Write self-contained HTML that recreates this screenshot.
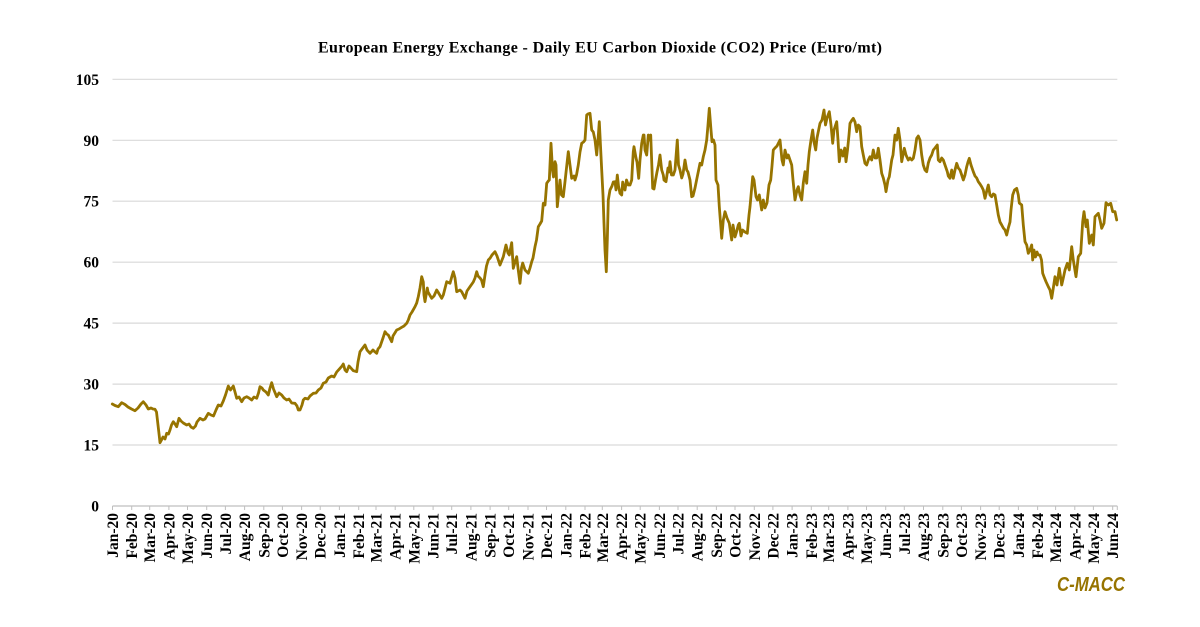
<!DOCTYPE html>
<html>
<head>
<meta charset="utf-8">
<style>
  html,body{margin:0;padding:0;background:#fff;}
  svg{display:block;}
  .t{font-family:"Liberation Serif","Times New Roman",serif;font-weight:bold;fill:#000;}
  .yl{font-size:15.5px;}
  .xl{font-size:15.5px;}
</style>
</head>
<body>
<svg width="1200" height="627" viewBox="0 0 1200 627" xmlns="http://www.w3.org/2000/svg">
  <rect width="1200" height="627" fill="#fff"/>
  <text class="t" x="600" y="52.5" font-size="16" text-anchor="middle" textLength="564" lengthAdjust="spacing">European Energy Exchange - Daily EU Carbon Dioxide (CO2) Price (Euro/mt)</text>

  <!-- gridlines -->
  <g stroke="#d9d9d9" stroke-width="1.2">
    <line x1="112.5" y1="79.3" x2="1117.3" y2="79.3"/>
    <line x1="112.5" y1="140.3" x2="1117.3" y2="140.3"/>
    <line x1="112.5" y1="201.2" x2="1117.3" y2="201.2"/>
    <line x1="112.5" y1="262.2" x2="1117.3" y2="262.2"/>
    <line x1="112.5" y1="323.1" x2="1117.3" y2="323.1"/>
    <line x1="112.5" y1="384.1" x2="1117.3" y2="384.1"/>
    <line x1="112.5" y1="445.0" x2="1117.3" y2="445.0"/>
  </g>
  <line x1="112.5" y1="506" x2="1117.3" y2="506" stroke="#bfbfbf" stroke-width="1.2"/>

  <!-- y labels -->
  <g class="t yl" text-anchor="end">
    <text x="99" y="84.8">105</text>
    <text x="99" y="145.8">90</text>
    <text x="99" y="206.7">75</text>
    <text x="99" y="267.7">60</text>
    <text x="99" y="328.6">45</text>
    <text x="99" y="389.6">30</text>
    <text x="99" y="450.5">15</text>
    <text x="99" y="511.5">0</text>
  </g>

  <!-- x ticks -->
  <g stroke="#bfbfbf" stroke-width="1">
    <path d="M112.5 506v4M131.7 506v4M149.7 506v4M168.9 506v4M187.5 506v4M206.7 506v4M225.4 506v4M244.6 506v4M263.8 506v4M282.4 506v4M301.6 506v4M320.2 506v4M339.4 506v4M358.7 506v4M376 506v4M395.2 506v4M413.8 506v4M433.1 506v4M451.7 506v4M470.9 506v4M490.1 506v4M508.7 506v4M528 506v4M546.5 506v4M565.8 506v4M585 506v4M602.3 506v4M621.6 506v4M640.2 506v4M659.4 506v4M678 506v4M697.2 506v4M716.4 506v4M735 506v4M754.3 506v4M772.9 506v4M792.1 506v4M811.3 506v4M828.7 506v4M847.9 506v4M866.5 506v4M885.7 506v4M904.3 506v4M923.5 506v4M942.8 506v4M961.4 506v4M980.6 506v4M999.2 506v4M1018.4 506v4M1037.6 506v4M1055.6 506v4M1074.8 506v4M1093.4 506v4M1112.7 506v4M1117.3 506v4"/>
  </g>

  <!-- x labels -->
  <g class="t xl" text-anchor="end">
    <text transform="translate(118,513) rotate(-90)">Jan-20</text>
    <text transform="translate(137.2,513) rotate(-90)">Feb-20</text>
    <text transform="translate(155.2,513) rotate(-90)">Mar-20</text>
    <text transform="translate(174.4,513) rotate(-90)">Apr-20</text>
    <text transform="translate(193,513) rotate(-90)">May-20</text>
    <text transform="translate(212.2,513) rotate(-90)">Jun-20</text>
    <text transform="translate(230.9,513) rotate(-90)">Jul-20</text>
    <text transform="translate(250.1,513) rotate(-90)">Aug-20</text>
    <text transform="translate(269.3,513) rotate(-90)">Sep-20</text>
    <text transform="translate(287.9,513) rotate(-90)">Oct-20</text>
    <text transform="translate(307.1,513) rotate(-90)">Nov-20</text>
    <text transform="translate(325.7,513) rotate(-90)">Dec-20</text>
    <text transform="translate(344.9,513) rotate(-90)">Jan-21</text>
    <text transform="translate(364.2,513) rotate(-90)">Feb-21</text>
    <text transform="translate(381.5,513) rotate(-90)">Mar-21</text>
    <text transform="translate(400.7,513) rotate(-90)">Apr-21</text>
    <text transform="translate(419.3,513) rotate(-90)">May-21</text>
    <text transform="translate(438.6,513) rotate(-90)">Jun-21</text>
    <text transform="translate(457.2,513) rotate(-90)">Jul-21</text>
    <text transform="translate(476.4,513) rotate(-90)">Aug-21</text>
    <text transform="translate(495.6,513) rotate(-90)">Sep-21</text>
    <text transform="translate(514.2,513) rotate(-90)">Oct-21</text>
    <text transform="translate(533.5,513) rotate(-90)">Nov-21</text>
    <text transform="translate(552,513) rotate(-90)">Dec-21</text>
    <text transform="translate(571.3,513) rotate(-90)">Jan-22</text>
    <text transform="translate(590.5,513) rotate(-90)">Feb-22</text>
    <text transform="translate(607.8,513) rotate(-90)">Mar-22</text>
    <text transform="translate(627.1,513) rotate(-90)">Apr-22</text>
    <text transform="translate(645.7,513) rotate(-90)">May-22</text>
    <text transform="translate(664.9,513) rotate(-90)">Jun-22</text>
    <text transform="translate(683.5,513) rotate(-90)">Jul-22</text>
    <text transform="translate(702.7,513) rotate(-90)">Aug-22</text>
    <text transform="translate(721.9,513) rotate(-90)">Sep-22</text>
    <text transform="translate(740.5,513) rotate(-90)">Oct-22</text>
    <text transform="translate(759.8,513) rotate(-90)">Nov-22</text>
    <text transform="translate(778.4,513) rotate(-90)">Dec-22</text>
    <text transform="translate(797.6,513) rotate(-90)">Jan-23</text>
    <text transform="translate(816.8,513) rotate(-90)">Feb-23</text>
    <text transform="translate(834.2,513) rotate(-90)">Mar-23</text>
    <text transform="translate(853.4,513) rotate(-90)">Apr-23</text>
    <text transform="translate(872,513) rotate(-90)">May-23</text>
    <text transform="translate(891.2,513) rotate(-90)">Jun-23</text>
    <text transform="translate(909.8,513) rotate(-90)">Jul-23</text>
    <text transform="translate(929,513) rotate(-90)">Aug-23</text>
    <text transform="translate(948.3,513) rotate(-90)">Sep-23</text>
    <text transform="translate(966.9,513) rotate(-90)">Oct-23</text>
    <text transform="translate(986.1,513) rotate(-90)">Nov-23</text>
    <text transform="translate(1004.7,513) rotate(-90)">Dec-23</text>
    <text transform="translate(1023.9,513) rotate(-90)">Jan-24</text>
    <text transform="translate(1043.1,513) rotate(-90)">Feb-24</text>
    <text transform="translate(1061.1,513) rotate(-90)">Mar-24</text>
    <text transform="translate(1080.3,513) rotate(-90)">Apr-24</text>
    <text transform="translate(1098.9,513) rotate(-90)">May-24</text>
    <text transform="translate(1118.2,513) rotate(-90)">Jun-24</text>
  </g>

  <!-- series -->
  <polyline fill="none" stroke="#977400" stroke-width="2.8" stroke-linejoin="round" stroke-linecap="round" points="
112.3,404 115,405.5 118.3,406.7 121.7,402.7 125,404.5 128,407 131.5,409 135,410.7 138,408 141,404 143.3,401.7 146,405 148.3,409 151,408 153,409 155,409.3 156.5,412 158,425 159.5,438 160,442.7 161.5,440 163,437 165,439 166.7,433.3 168.5,434 170,430 171.5,425 173.3,421.7 175,424 176.7,426.7 179,418.3 181,421 183.3,423 186.7,425 189,424 191,427 193.3,428.3 195.5,426 197,422 200,418.3 203,420 205,419 208.3,413.3 211,415 213.5,416 216,410 218.3,405 221,406 223.3,401 225.5,395 228.3,386 230.5,390 233.3,386 235,392 236.7,398.3 239,397 241.7,401.7 244,398 246.7,396.7 249,398 251.7,400 254,397 256.7,398.3 258.5,393 260,386.7 262,388 263.3,390 266,392 268.3,395 270,388 271.7,382.7 273.5,389 276.7,396.7 279,393 281.7,395 284,398 286.7,400 289,399 291.7,403 295,403.3 297,406 298.3,410 300,410 302,405 303.3,400
305,398.3 308,399 310,396 313.3,393.3 316,393 318.3,390 321,388 323.3,383.3 326,382 328.3,378 331.7,376 334,377 336.7,372 340,368.3 342,366 343.3,364 345,370 346.7,371.7 349,366 350,367 353.3,370.7 356.7,371.7 358,362 360,351.7 362,349 365,345 367,350 370,353.3 373,350 374,351 376.7,353.3 378,349 380,346.7 383,338 385,331.7 386.7,334 388.3,335 391.7,341.7 393,336 396.7,330 399,329 401.7,327.3 404,326 406.7,323.3 408.3,320 410,315 412,312 415,306.7 416.7,303 418.3,296.7 420,288 421.7,276.7 423.3,282 424,295 425,301.7 427.3,288 428,292 431.7,298.3 434,296 436.7,290 438,292 441.7,298.3 443.3,295 446.7,281.7 450,283.3 452,276 453.3,271.7 455,278 456.7,291.7 460,290 461.7,291.7 465,298.3 467,291 470,286.7 473.3,282 475,278 476.7,271.7 478,276 480,278 481.5,280 483.3,286.7 485,275 486.5,266 488.3,260
490,258.3 492,255 495,251.7 497,256 500,265 502,260 503.3,256.7 506,245 508,253 509.3,255 511.7,242.7 513.3,268.3 515,262 516.7,256.7 518,268 520,283.3 521.5,268 522.7,263 525,270 528.3,273.3 530,268 531.7,261.7 533,258 535,246.7 536.5,240 538.3,226.7 540,224 541.7,221 543.3,203.3 545,205 546.7,183.3 548.3,181 549.3,180 551,143.3 552.5,170 553.5,177 555,161.7 556,165 557.3,206.7 559,190 560,180 561.5,195 563.3,196.7 565,181.7 566.5,168 568.3,151.7 570,165 571.7,178.3 574,176 575,180 576.5,175 578.3,165 580,152 581.7,143.3 583.5,142 585,140 586.7,115 588,114 590,113.3 591.7,130 593.3,132 595,140 596.7,155 598,140 599.3,121.7 600.7,150 601.7,170 603,195 604,223.3 605,250 606.3,271.7 607.3,240 608.3,200 610,190 612,186 613.3,182 615,181.7 616,190 617.3,175 618.5,186 620,193.3 621.7,195 622.7,182 623.5,187 625,190 626.5,180 628.3,185 630,185 631.7,180 632.5,165 633.3,151.7 634,146.7 636,158 637,162 638.7,178.3 640,160 641.7,143.3 643.3,135 644,135 645,150 646.7,155 648.3,135 649.5,140 650.7,135 652.7,188.3 654,189 655.5,180 657,172 658.5,165 660,155 661.7,170 663.3,175 664,180 666,181.7 668,168 669,172 670,161.7 671.5,175 673.3,175 675,170 677.3,140 678.5,165 680,170 681.7,178 683,174 685,160 686.7,170 688,172 690,180 691.7,196.7 693,196 695,188 697,178 700,163.3 701.7,165 703.3,156.7 705,150 706.7,140 708,125 709.3,108.3 711,130 712,141.7 713.5,140 715,145 716,180 718,185 719.3,206.7 721.7,238.3 723.3,220 725,211.7 727,218 729.3,223.3 731.7,240 733,225 735,237 736.5,232 738.3,225 739.3,223.3 741,236 742.5,230 745,232 747.3,233.3 749,215 750,206.7 752.7,176.7 754,180 756,196.7 757.5,200 759.3,195 761.7,210 763.3,200 765,208 767,203 769,185 770.7,180 772,166 773.3,150 775,148 777,146 780,140 782,160 783.3,165 785,150 787,158 788.3,155 791.7,165 793,180 795,200 797,190 798.3,186.7 800,195 801.7,200 803.3,183 805,171.7 806.7,183.3 808,165 809.3,151.7 811,140 812.7,130 814,142 815.7,150 817,138 820,123.3 822,120 824,110 825.5,125 827,118 829.3,111.7 831,125 832.7,143.3 834,130 836.7,121.7 838,140 839.3,161.7 841,150 843,156 844.7,148 846,161.7 847.5,150 849,135 850,123.3 852,120 853.3,118.3 855,122 856.7,131.7 858.3,125 860,126.7 861.7,146.7 863.3,155 865,163.3 866.7,165 868.3,160
870,156.7 871.7,160 873.3,150 875,158 876.7,158 878.3,148.3 880,160 881.7,173.3 883.3,178 885,185 886,191.7 888,180 889.3,176.7 891.7,160 893,155 895,135 896.7,140 898.3,128.3 900,140 901.7,161.7 903,155 904.3,148.3 906,155 908.3,160 910,158 911.7,160 913.3,158.3 915,150 916.7,138.3 918.3,136 920,140 921.7,155 923.3,165 925,170 926.7,171.7 928.3,163 930,158 931.7,155 933.3,150 935,148 937.3,145 938.3,160 940,161.7 941.7,158 943.3,160 945,165 947.3,171.7 948.3,176 950,178.3 951.7,170 953.3,178.3 955,170 956.7,163.3 958.3,168 960,170 961.7,175 963.3,180 965,175 966.7,166.7 968,162 969.3,158.3 971,165 973.3,171.7 975,176 976.7,178 978.3,181.7 980,184 981.7,186.7 983.3,190 985,198.3 986.5,192 988.3,185 990,195 991.7,196.7 993.3,194 995,195 996.7,205 998.3,215 1000,222 1001.7,225 1003.3,228 1005,230 1006.7,235 1008.3,228 1010,222 1011,210 1012.7,195 1014.5,190 1016.7,188.3 1018.3,195 1019.3,203 1021.7,205 1023.3,225 1025,241.7 1026.7,245 1028.3,253.3 1030,250 1031.7,245 1032.7,260 1034,250 1035.5,257 1037,252 1038.3,255 1040,255 1041.5,260 1042.7,273.3 1044,276.7 1046,281.7 1048.3,286.7 1050,290 1051.7,298.3 1053,290 1055,276.7 1057,285 1059.3,268.3 1061.7,285 1063.3,278 1065,270 1067.3,263.3 1069.3,270 1071.7,246.7 1073.3,260 1076,276.7 1078.3,256.7 1080.7,253.3 1082.7,221.7 1084,211.7 1086,226.7 1087.3,220 1089.3,243.3 1091.7,235 1093.3,245 1095,216.7 1098.3,213.3 1100,220 1101.7,228.3 1104,223.3 1106,202.7 1108.3,205 1110.7,203.3 1112.7,211.7 1115,211.7 1116.7,220"/>

  <text x="1057" y="591" font-family="'Liberation Sans', Arial, sans-serif" font-weight="bold" font-style="italic" font-size="20" fill="#977400" textLength="68" lengthAdjust="spacingAndGlyphs">C-MACC</text>
</svg>
</body>
</html>
